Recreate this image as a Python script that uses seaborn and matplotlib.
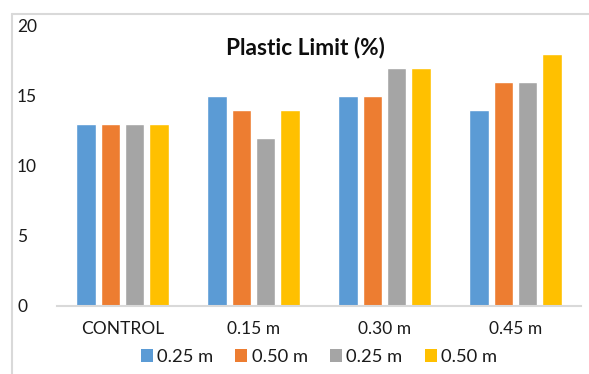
import matplotlib
matplotlib.use("Agg")
import matplotlib.pyplot as plt
from matplotlib.lines import Line2D
from matplotlib.patches import Patch
import seaborn as sns
import pandas as pd

# Plastic limit (%) per sample group
categories = ["CONTROL", "0.15 m", "0.30 m", "0.45 m"]
series_labels = ["0.25 m", "0.50 m", "0.25 m", "0.50 m"]
series_keys = ["s1", "s2", "s3", "s4"]
s1 = [13, 15, 15, 14]
s2 = [13, 14, 15, 16]
s3 = [13, 12, 17, 16]
s4 = [13, 14, 17, 18]
colors = ["#5B9BD5", "#ED7D31", "#A5A5A5", "#FFC000"]
yticks = [0, 5, 10, 15, 20]

rows = []
for key, vals in zip(series_keys, [s1, s2, s3, s4]):
    for cat, v in zip(categories, vals):
        rows.append({"group": cat, "series": key, "value": v})
df = pd.DataFrame(rows)

sns.set_theme(style="white")
plt.rcParams["font.family"] = ["Lato", "DejaVu Sans"]

W, H = 589, 374
fig = plt.figure(figsize=(W / 100, H / 100), dpi=100)
ax = fig.add_axes([57 / W, 1 - 306 / H, (581 - 57) / W, (306 - 26) / H])

sns.barplot(data=df, x="group", y="value", hue="series", order=categories,
            hue_order=series_keys, palette=colors, width=0.74, gap=0.2,
            saturation=1, errorbar=None, legend=False, ax=ax)

ax.set_ylim(0, 20)
ax.set_yticks(yticks)
ax.set_xlim(-0.5, len(categories) - 0.5)
ax.set_xlabel("")
ax.set_ylabel("")
# pads are in points: 40 px -> 28.8 pt
ax.tick_params(axis="y", length=0, pad=28.8, labelsize=12.5, labelcolor="#1A1A1A")
ax.tick_params(axis="x", length=0, pad=11, labelsize=12.5, labelcolor="#1A1A1A")
for lbl in ax.get_yticklabels():
    lbl.set_horizontalalignment("left")
for side in ["left", "right", "top"]:
    ax.spines[side].set_visible(False)
ax.spines["bottom"].set_color("#D9D9D9")
ax.spines["bottom"].set_linewidth(1.5)

fig.text(305 / W, 1 - 47 / H, "Plastic Limit (%)", ha="center", va="center",
         fontsize=16.3, fontweight="bold", color="#0D0D0D")

handles = [Patch(facecolor=c, edgecolor="none") for c in colors]
fig.legend(handles, series_labels, loc="center", bbox_to_anchor=(319 / W, 1 - 357 / H),
           ncol=4, frameon=False, fontsize=13.2, handlelength=0.65, handleheight=0.65,
           handletextpad=0.25, columnspacing=1.2, borderaxespad=0,
           labelcolor="#1A1A1A")

# chart area border (left and top edges)
fig.add_artist(Line2D([12 / W, 12 / W], [0, 1 - 14 / H], transform=fig.transFigure,
                      color="#D9D9D9", lw=1.5))
fig.add_artist(Line2D([12 / W, 1], [1 - 14 / H, 1 - 14 / H], transform=fig.transFigure,
                      color="#D9D9D9", lw=1.5))

fig.savefig("out.png", dpi=100)
